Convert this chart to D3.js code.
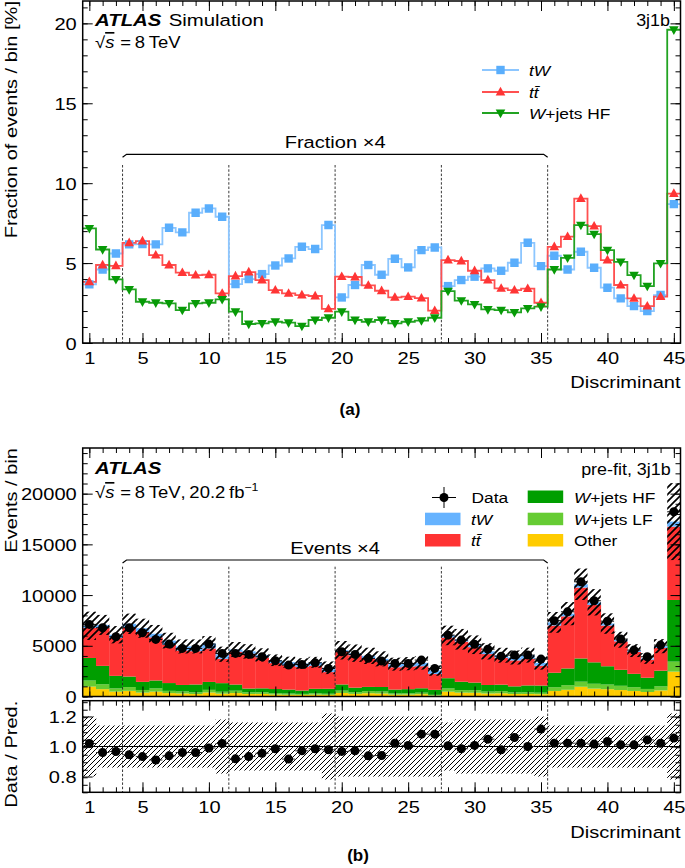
<!DOCTYPE html>
<html><head><meta charset="utf-8">
<script src="https://cdn.jsdelivr.net/npm/d3@7"></script>
<style>
body{margin:0;background:#fff;}
text{font-family:"Liberation Sans",Arial,Helvetica,sans-serif;}
</style></head>
<body><svg id="c" width="685" height="868"></svg>
<script>
// ---------------- data ----------------
const bins = d3.range(1, 46);
const xTickLabels = [1, 5, 10, 15, 20, 25, 30, 35, 40, 45];
const regionEdges = [3.5, 11.5, 19.5, 27.5, 35.5];

// (a) fraction of events / bin [%]  (bins 4-35 shown x4)
const fracTW = [3.67,4.6,5.6,6.17,6.19,6.17,7.21,6.92,8.15,8.42,7.9,3.69,4.0,4.31,4.85,5.29,6.02,5.88,7.38,2.85,3.63,4.88,4.27,5.27,4.73,5.81,5.98,3.56,3.94,4.15,4.67,4.52,5.02,6.27,4.81,5.46,4.6,5.71,4.71,3.46,2.79,2.31,2.0,3.0,8.69];
const fracTT = [3.83,4.88,4.83,6.27,6.38,5.5,4.88,4.4,4.25,4.27,3.1,4.19,4.44,3.94,3.31,3.1,3.0,2.94,2.13,4.15,4.13,3.6,3.27,2.85,2.9,2.81,2.02,5.19,5.13,4.52,3.94,3.42,3.31,3.4,2.52,6.02,6.65,9.04,7.31,5.19,3.63,2.79,2.31,2.9,9.35];
const fracHF = [7.17,5.85,3.98,3.35,2.58,2.52,2.48,2.06,2.48,2.52,2.73,1.96,1.19,1.23,1.33,1.27,1.06,1.44,1.58,1.96,1.44,1.33,1.44,1.23,1.33,1.4,1.58,3.25,2.65,2.42,2.1,2.06,1.92,2.17,2.27,4.6,5.33,7.38,6.81,5.81,5.08,4.25,3.56,4.98,19.6];

// (b) events / bin (bins 4-35 shown x4)
const evOther = [976,726,481,558,383,479,336,300,245,396,281,341,247,254,194,170,160,184,162,350,257,323,293,183,191,228,95,475,381,371,296,317,246,248,227,546,663,963,778,721,637,547,445,602,2450];
const evLF = [600,480,320,370,260,320,220,200,170,260,190,230,170,170,130,120,100,130,110,230,170,210,200,120,120,150,70,320,250,250,190,210,160,170,150,370,450,500,480,460,420,370,300,400,990];
const evHF = [2223,1814,1234,1039,800,781,769,639,769,781,846,608,369,381,412,394,329,446,490,608,446,412,446,381,412,434,490,1008,822,750,651,639,595,673,704,1426,1652,2288,2111,1801,1575,1318,1104,1544,6076];
const evTT = [2960,3772,3734,4847,4932,4252,3772,3401,3285,3301,2396,3239,3432,3046,2559,2396,2319,2273,1646,3208,3192,2783,2528,2203,2242,2172,1561,4012,3965,3494,3046,2644,2559,2628,1948,4653,5140,6988,5651,4012,2806,2157,1786,2242,7228];
const evTW = [211,265,322,355,356,355,415,398,469,484,454,212,230,248,279,304,346,338,424,164,209,281,246,303,272,334,344,205,227,239,269,260,289,361,277,314,265,328,271,199,160,133,115,173,500];
const evData = [7110,6775,5890,6775,6280,5630,5170,4740,4740,5170,4250,4250,4150,3915,3520,3100,3160,3320,2770,4410,4150,3760,3490,3260,3260,3590,2770,6050,5560,5140,4670,3980,4080,4080,3690,7470,8350,11310,9440,7430,5660,4575,3915,5070,18210];
const relUnc = [0.20,0.14,0.14,0.14,0.14,0.14,0.14,0.14,0.14,0.14,0.18,0.16,0.16,0.16,0.16,0.16,0.16,0.16,0.22,0.20,0.20,0.20,0.20,0.20,0.20,0.20,0.20,0.16,0.18,0.18,0.18,0.18,0.18,0.18,0.20,0.14,0.14,0.14,0.14,0.14,0.14,0.14,0.14,0.14,0.22];

const yTicksA = [0, 5, 10, 15, 20];
const yTicksB = [0, 5000, 10000, 15000, 20000];
const yTicksR = [0.8, 1.0, 1.2];

// ---------------- drawing ----------------
const svg = d3.select("#c");
const FS = 17, SX = 1.18;
const LFS = 15.5, LSX = 1.12;   // legend font
const L = 82.7, R = 680.5;
const x = d3.scaleLinear().domain([0.5, 45.5]).range([L, R]);
const bw = x(2) - x(1);

function T(g, xx, yy, opts = {}){
  const rot = opts.rot ? " rotate(-90)" : "";
  const t = g.append("text").attr("transform", `translate(${xx},${yy})${rot} scale(${opts.sx || SX},1)`)
    .attr("font-size", opts.fs || FS).attr("text-anchor", opts.anchor || "start");
  if (opts.text !== undefined) t.text(opts.text);
  return t;
}

const defs = svg.append("defs");
function hatch(id, s, w){
  defs.append("pattern").attr("id", id).attr("patternUnits","userSpaceOnUse")
    .attr("width", s).attr("height", s)
    .append("path").attr("d", `M-1,1 l2,-2 M0,${s} l${s},${-s} M${s-1},${s+1} l2,-2`)
    .attr("stroke","#000").attr("stroke-width", w);
}
hatch("hm", 7, 1.7);
hatch("hr", 5, 1);

function widen(sel){
  sel.each(function(){
    const t = d3.select(this);
    const xx = +t.attr("x") || 0, yy = +t.attr("y") || 0;
    t.attr("x", 0).attr("y", 0).attr("transform", `translate(${xx},${yy}) scale(${SX},1)`);
  });
}

function frameAxes(g, y, top, bot, yTicks, yMinorStep, yFmt, showX){
  const minorY = d3.range(y.domain()[0], y.domain()[1] + 1e-9, yMinorStep);
  const mk = (axis, tr) => {
    const a = g.append("g").attr("transform", tr).call(axis);
    a.select(".domain").remove();
    a.selectAll("line").attr("stroke","#000").attr("stroke-width",1);
    a.selectAll("text").attr("font-size", FS).attr("fill","#000");
    return a;
  };
  const ax = mk(d3.axisBottom(x).tickValues(xTickLabels).tickSize(-10).tickFormat(showX ? d3.format("d") : ""), `translate(0,${bot})`);
  ax.selectAll("text").attr("dy","1.0em").attr("y", 4);
  widen(ax.selectAll("text"));
  mk(d3.axisBottom(x).tickValues(bins).tickSize(-5).tickFormat(""), `translate(0,${bot})`);
  mk(d3.axisTop(x).tickValues(xTickLabels).tickSize(-10).tickFormat(""), `translate(0,${top})`);
  mk(d3.axisTop(x).tickValues(bins).tickSize(-5).tickFormat(""), `translate(0,${top})`);
  const ay = mk(d3.axisLeft(y).tickValues(yTicks).tickSize(-10).tickPadding(6).tickFormat(yFmt), `translate(${L},0)`);
  ay.selectAll("text").attr("dy","0.36em");
  widen(ay.selectAll("text"));
  mk(d3.axisLeft(y).tickValues(minorY).tickSize(-5).tickFormat(""), `translate(${L},0)`);
  mk(d3.axisRight(y).tickValues(yTicks).tickSize(-10).tickFormat(""), `translate(${R},0)`);
  mk(d3.axisRight(y).tickValues(minorY).tickSize(-5).tickFormat(""), `translate(${R},0)`);
  g.append("rect").attr("x", L).attr("y", top).attr("width", R-L).attr("height", bot-top)
    .attr("fill","none").attr("stroke","#000").attr("stroke-width",1.5);
}

function regionLines(g, y0, y1){
  regionEdges.forEach(e => {
    g.append("line").attr("x1", x(e)).attr("x2", x(e)).attr("y1", y0).attr("y2", y1)
      .attr("stroke","#222").attr("stroke-width",0.9).attr("stroke-dasharray","2.5,1.8");
  });
}
function bracket(g, yb, label){
  const a = x(regionEdges[0]), b = x(regionEdges[regionEdges.length-1]);
  g.append("path").attr("d", `M${a},${yb+3} L${a+4},${yb} L${b-4},${yb} L${b},${yb+3}`)
    .attr("fill","none").attr("stroke","#000").attr("stroke-width",1.2);
  T(g, (a+b)/2, yb-6.5, {anchor:"middle", text: label});
}
function sqrtS(g, xx, yy){
  const t = T(g, xx, yy, {fs: 16.5, sx: 1.12});
  t.append("tspan").text("\u221a");
  t.append("tspan").attr("font-style","italic").style("text-decoration","overline").text("s");
  t.append("tspan").attr("dx", 2).text("\u2009=\u20098\u2009TeV");
  return t;
}

// ======== Panel (a) ========
const TA = 1, BA = 343;
const ya = d3.scaleLinear().domain([0, 21.4]).range([BA, TA]);
const ga = svg.append("g");
ga.append("clipPath").attr("id","cpa").append("rect").attr("x",L).attr("y",TA).attr("width",R-L).attr("height",BA-TA);

regionLines(ga, 165, BA);
bracket(ga, 154.3, "Fraction \u00d74");

const seriesA = [
  {vals: fracTW, line:"#8cc6ff", mk:"#5aaefc", shape:"sq"},
  {vals: fracTT, line:"#ff5050", mk:"#ff3535", shape:"up"},
  {vals: fracHF, line:"#22a322", mk:"#079a07", shape:"dn"}
];
const shapes = {
  sq: "M-4.2,-4.2H4.2V4.2H-4.2Z",
  up: "M0,-5.2L4.8,3.4H-4.8Z",
  dn: "M0,5.2L4.8,-3.4H-4.8Z"
};
const pa = ga.append("g").attr("clip-path","url(#cpa)");
seriesA.forEach(s => {
  const pts = bins.map((b,i) => [x(b-0.5), ya(s.vals[i])]);
  pts.push([x(45.5), ya(s.vals[44])]);
  pa.append("path").attr("d", d3.line().curve(d3.curveStepAfter)(pts))
    .attr("fill","none").attr("stroke", s.line).attr("stroke-width",1.8);
});
seriesA.forEach(s => {
  pa.selectAll(null).data(s.vals).join("path")
    .attr("transform", (v,i) => `translate(${x(bins[i])},${ya(v)})`)
    .attr("d", shapes[s.shape]).attr("fill", s.mk);
});
frameAxes(ga, ya, TA, BA, yTicksA, 1, d3.format("d"), true);

T(ga, 17, 1, {rot: true, anchor: "end", text: "Fraction of events / bin [%]"});
T(ga, R, 388.3, {anchor: "end", text: "Discriminant"});

const atl = T(ga, 95, 26, {fs: 17, sx: 1.2});
atl.append("tspan").attr("font-weight","bold").attr("font-style","italic").text("ATLAS");
atl.append("tspan").attr("dx", 6).text("Simulation");
sqrtS(ga, 95, 48);
T(ga, 670, 26, {anchor: "end", fs: 16, sx: 1.12, text: "3j1b"});

const legA = [
  {s: seriesA[0], y: 70, txt: [["tW", true]]},
  {s: seriesA[1], y: 92, txt: [["tt\u0304", true]]},
  {s: seriesA[2], y: 113, txt: [["W", true], ["+jets HF", false]]}
];
legA.forEach(l => {
  ga.append("line").attr("x1", 482).attr("x2", 519).attr("y1", l.y).attr("y2", l.y)
    .attr("stroke", l.s.line).attr("stroke-width", 1.8);
  ga.append("path").attr("transform", `translate(500.5,${l.y})`).attr("d", shapes[l.s.shape]).attr("fill", l.s.mk);
  const t = T(ga, 529, l.y + 5.5, {fs: LFS, sx: LSX});
  l.txt.forEach(p => t.append("tspan").attr("font-style", p[1] ? "italic" : "normal").text(p[0]));
});

svg.append("text").attr("x", 350).attr("y", 415).attr("text-anchor","middle")
  .attr("font-family","Liberation Serif, Times New Roman, serif").attr("font-weight","bold").attr("font-size", 17).text("(a)");

// ======== Panel (b) ========
const TB = 448, BB = 696.5;
const yb = d3.scaleLinear().domain([0, 24500]).range([BB, TB]);
const gb = svg.append("g");
gb.append("clipPath").attr("id","cpb").append("rect").attr("x",L).attr("y",TB).attr("width",R-L).attr("height",BB-TB);
const pb = gb.append("g").attr("clip-path","url(#cpb)");

const comps = [
  {key:"Other", vals: evOther, col:"#ffcc00"},
  {key:"LF", vals: evLF, col:"#66cc33"},
  {key:"HF", vals: evHF, col:"#009e00"},
  {key:"tt", vals: evTT, col:"#ff3333"},
  {key:"tW", vals: evTW, col:"#66b3ff"}
];
const table = bins.map((b,i) => {
  const o = {bin: b};
  comps.forEach(c => o[c.key] = c.vals[i]);
  return o;
});
const stack = d3.stack().keys(comps.map(c => c.key))(table);
stack.forEach((layer, li) => {
  pb.selectAll(null).data(layer).join("rect")
    .attr("x", d => x(d.data.bin - 0.5)).attr("width", bw + 0.3)
    .attr("y", d => yb(d[1])).attr("height", d => yb(d[0]) - yb(d[1]))
    .attr("fill", comps[li].col);
});
const total = table.map(d => comps.reduce((s,c) => s + d[c.key], 0));
pb.selectAll(null).data(total).join("rect")
  .attr("x", (t,i) => x(bins[i]-0.5)).attr("width", bw)
  .attr("y", (t,i) => yb(t*(1+relUnc[i]))).attr("height", (t,i) => yb(t*(1-relUnc[i])) - yb(t*(1+relUnc[i])))
  .attr("fill","url(#hm)");
regionLines(gb, 566.7, BB);
bracket(gb, 560, "Events \u00d74");
pb.selectAll(null).data(evData).join("line")
  .attr("x1",(v,i)=>x(bins[i]-0.5)).attr("x2",(v,i)=>x(bins[i]+0.5))
  .attr("y1",v=>yb(v)).attr("y2",v=>yb(v)).attr("stroke","#000").attr("stroke-width",1);
pb.selectAll(null).data(evData).join("line")
  .attr("x1",(v,i)=>x(bins[i])).attr("x2",(v,i)=>x(bins[i]))
  .attr("y1",v=>yb(v+Math.sqrt(v))).attr("y2",v=>yb(v-Math.sqrt(v))).attr("stroke","#000").attr("stroke-width",1);
pb.selectAll(null).data(evData).join("circle")
  .attr("cx",(v,i)=>x(bins[i])).attr("cy",v=>yb(v)).attr("r",4.5).attr("fill","#000");
frameAxes(gb, yb, TB, BB, yTicksB, 1000, d3.format("d"), false);

T(gb, 17, TB, {rot: true, anchor: "end", text: "Events / bin"});
const atl2 = T(gb, 95, 473.5, {fs: 17, sx: 1.2});
atl2.append("tspan").attr("font-weight","bold").attr("font-style","italic").text("ATLAS");
const ss = sqrtS(gb, 95, 498);
ss.append("tspan").text(",\u200920.2\u2009fb");
ss.append("tspan").attr("dy", -7).attr("font-size", 11).text("\u22121");
T(gb, 670.7, 475, {anchor: "end", fs: 16, sx: 1.12, text: "pre-fit, 3j1b"});

// legend (b)
gb.append("circle").attr("cx", 444).attr("cy", 497.5).attr("r", 4.5).attr("fill","#000");
gb.append("line").attr("x1", 432).attr("x2", 456).attr("y1", 497.5).attr("y2", 497.5).attr("stroke","#000");
gb.append("line").attr("x1", 444).attr("x2", 444).attr("y1", 487).attr("y2", 508).attr("stroke","#000");
T(gb, 471.5, 503, {fs: LFS, sx: LSX, text: "Data"});
const legB = [
  {x0: 425, y0: 512.7, col: comps[4].col, tx: 471, txt: [["tW", true]]},
  {x0: 425, y0: 534, col: comps[3].col, tx: 471, txt: [["tt\u0304", true]]},
  {x0: 527.7, y0: 490.5, col: comps[2].col, tx: 574, txt: [["W", true], ["+jets HF", false]]},
  {x0: 527.7, y0: 512.7, col: comps[1].col, tx: 574, txt: [["W", true], ["+jets LF", false]]},
  {x0: 527.7, y0: 534, col: comps[0].col, tx: 574, txt: [["Other", false]]}
];
legB.forEach(l => {
  gb.append("rect").attr("x", l.x0).attr("y", l.y0).attr("width", 35.5).attr("height", 12.5).attr("fill", l.col);
  const t = T(gb, l.tx, l.y0 + 12, {fs: LFS, sx: LSX});
  l.txt.forEach(p => t.append("tspan").attr("font-style", p[1] ? "italic" : "normal").text(p[0]));
});

// ======== Ratio ========
const TR = 700.7, BR = 792.3;
const yr = d3.scaleLinear().domain([0.695, 1.305]).range([BR, TR]);
const gr = svg.append("g");
gr.append("clipPath").attr("id","cpr").append("rect").attr("x",L).attr("y",TR).attr("width",R-L).attr("height",BR-TR);
const pr = gr.append("g").attr("clip-path","url(#cpr)");
pr.selectAll(null).data(relUnc).join("rect")
  .attr("x",(u,i)=>x(bins[i]-0.5)).attr("width", bw + 0.3)
  .attr("y",u=>yr(1+u)).attr("height",u=>yr(1-u)-yr(1+u)).attr("fill","url(#hr)");
pr.append("line").attr("x1",L).attr("x2",R).attr("y1",yr(1)).attr("y2",yr(1)).attr("stroke","#000").attr("stroke-width",1);
regionLines(gr, TR, BR);
const ratio = evData.map((d,i) => d / total[i]);
pr.selectAll(null).data(ratio).join("line")
  .attr("x1",(v,i)=>x(bins[i]-0.5)).attr("x2",(v,i)=>x(bins[i]+0.5))
  .attr("y1",v=>yr(v)).attr("y2",v=>yr(v)).attr("stroke","#333").attr("stroke-width",1);
pr.selectAll(null).data(ratio).join("line")
  .attr("x1",(v,i)=>x(bins[i])).attr("x2",(v,i)=>x(bins[i]))
  .attr("y1",(v,i)=>yr(v + Math.sqrt(evData[i])/total[i])).attr("y2",(v,i)=>yr(v - Math.sqrt(evData[i])/total[i]))
  .attr("stroke","#000").attr("stroke-width",1);
pr.selectAll(null).data(ratio).join("circle")
  .attr("cx",(v,i)=>x(bins[i])).attr("cy",v=>yr(v)).attr("r",4.5).attr("fill","#000");
frameAxes(gr, yr, TR, BR, yTicksR, 0.05, d3.format(".1f"), true);
T(gr, 17, TR, {rot: true, anchor: "end", text: "Data / Pred."});
T(gr, R, 838.3, {anchor: "end", text: "Discriminant"});

svg.append("text").attr("x", 358).attr("y", 861).attr("text-anchor","middle")
  .attr("font-family","Liberation Serif, Times New Roman, serif").attr("font-weight","bold").attr("font-size", 17).text("(b)");
</script></body></html>
